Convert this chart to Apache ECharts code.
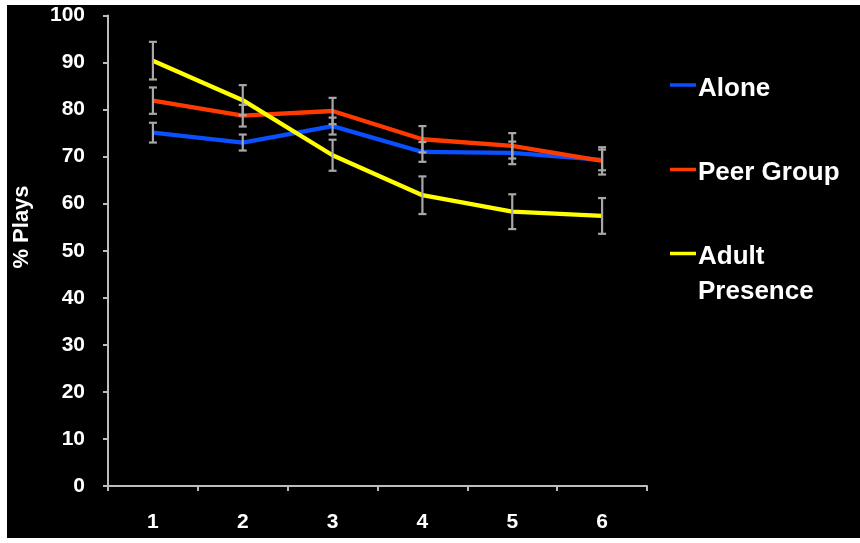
<!DOCTYPE html>
<html>
<head>
<meta charset="utf-8">
<script src="https://cdn.jsdelivr.net/npm/echarts@6/dist/echarts.min.js"></script>
<style>
  html, body { margin: 0; padding: 0; background: #ffffff; width: 860px; height: 543px; overflow: hidden; }
  #chart { position: absolute; left: 7px; top: 5px; width: 853px; height: 533px; background: #000000; }
</style>
</head>
<body>
<div id="chart"></div>
<script>
// Trial blocks on the x axis
const trials = ['1', '2', '3', '4', '5', '6'];

// Mean % plays per condition, with standard-error half widths
const aloneMean = [75.1, 73.0, 76.5, 71.0, 70.8, 69.3];
const aloneErr  = [2.1, 1.7, 1.8, 2.1, 2.4, 2.2];
const peerMean  = [81.9, 78.7, 79.7, 73.7, 72.3, 69.1];
const peerErr   = [2.8, 2.3, 2.8, 2.8, 2.7, 2.9];
const adultMean = [90.4, 82.0, 70.3, 61.8, 58.3, 57.4];
const adultErr  = [4.0, 3.2, 3.3, 4.0, 3.7, 3.8];

const seriesNames = ['Alone', 'Peer Group', 'Adult Presence'];
const legendLines = [['Alone'], ['Peer Group'], ['Adult', 'Presence']];
const seriesColors = ['#0a50ff', '#ff3a00', '#ffff00'];
const means = [aloneMean, peerMean, adultMean];
const errs = [aloneErr, peerErr, adultErr];

const FONT = '"Liberation Sans", Arial, sans-serif';
const AXIS_COLOR = '#bdbdbd';
const BAR_COLOR = '#a8a8a8';

const chart = echarts.init(document.getElementById('chart'), null, { renderer: 'canvas' });

function errorBars(meanArr, errArr) {
  return meanArr.map((m, i) => [i, m - errArr[i], m + errArr[i]]);
}

function renderErrorBar(params, api) {
  const x = api.value(0);
  const lo = api.coord([x, api.value(1)]);
  const hi = api.coord([x, api.value(2)]);
  const cap = 4;
  const style = { stroke: BAR_COLOR, lineWidth: 2.2, fill: null };
  return {
    type: 'group',
    children: [
      { type: 'line', shape: { x1: lo[0], y1: lo[1], x2: hi[0], y2: hi[1] }, style },
      { type: 'line', shape: { x1: lo[0] - cap, y1: lo[1], x2: lo[0] + cap, y2: lo[1] }, style },
      { type: 'line', shape: { x1: hi[0] - cap, y1: hi[1], x2: hi[0] + cap, y2: hi[1] }, style }
    ]
  };
}

const series = [];
seriesNames.forEach((name, k) => {
  series.push({
    name: name,
    type: 'line',
    data: means[k],
    symbol: 'none',
    lineStyle: { color: seriesColors[k], width: 4.3 },
    itemStyle: { color: seriesColors[k] },
    z: 2
  });
});
seriesNames.forEach((name, k) => {
  series.push({
    name: name + ' SE',
    type: 'custom',
    data: errorBars(means[k], errs[k]),
    renderItem: renderErrorBar,
    z: 5,
    silent: true
  });
});

// Legend drawn as short coloured strokes with labels at the right
const legendGraphics = [];
const legendRows = [80, 164.5, 248.5];
legendLines.forEach((lines, k) => {
  const y = legendRows[k];
  legendGraphics.push({
    type: 'line',
    shape: { x1: 663, y1: y, x2: 689, y2: y },
    style: { stroke: seriesColors[k], lineWidth: 3.5 }
  });
  lines.forEach((txt, j) => {
    legendGraphics.push({
      type: 'text',
      x: 691,
      y: y + 3.5 + j * 34.5,
      style: {
        text: txt,
        fill: '#ffffff',
        font: 'bold 26px ' + FONT,
        textAlign: 'left',
        textVerticalAlign: 'middle'
      }
    });
  });
});

legendGraphics.push({
  type: 'text',
  x: 15,
  y: 222,
  rotation: Math.PI / 2,
  style: {
    text: '% Plays',
    fill: '#ffffff',
    font: 'bold 22px ' + FONT,
    textAlign: 'center',
    textVerticalAlign: 'middle'
  }
});

chart.setOption({
  backgroundColor: '#000000',
  animation: false,
  grid: { left: 101, top: 10.5, width: 539, height: 470.5, containLabel: false },
  xAxis: {
    type: 'category',
    data: trials,
    boundaryGap: true,
    axisLine: { lineStyle: { color: AXIS_COLOR, width: 2 } },
    axisTick: { show: true, inside: false, length: 5, lineStyle: { color: AXIS_COLOR, width: 2 } },
    axisLabel: { color: '#ffffff', fontFamily: FONT, fontWeight: 'bold', fontSize: 21, margin: 26 },
    splitLine: { show: false }
  },
  yAxis: {
    type: 'value',
    min: 0,
    max: 100,
    interval: 10,
    axisLine: { show: true, lineStyle: { color: AXIS_COLOR, width: 2 } },
    axisTick: { show: true, inside: false, length: 5, lineStyle: { color: AXIS_COLOR, width: 2 } },
    axisLabel: { color: '#ffffff', fontFamily: FONT, fontWeight: 'bold', fontSize: 21, margin: 23 },
    splitLine: { show: false }
  },
  graphic: legendGraphics,
  series: series
});
</script>
</body>
</html>
